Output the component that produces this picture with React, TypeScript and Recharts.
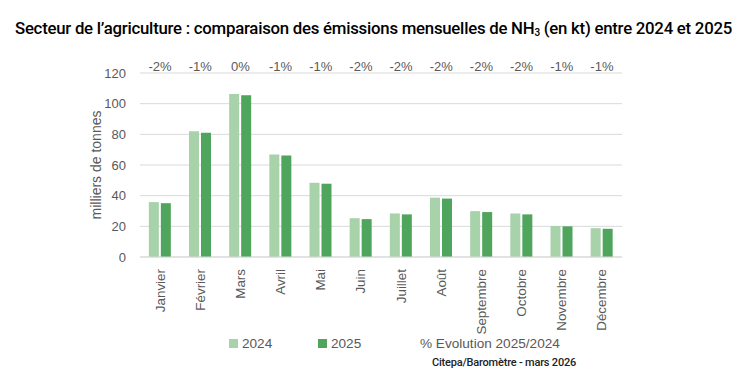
import React from 'react';
import { BarChart, Bar, XAxis, YAxis, CartesianGrid } from 'recharts';

const months = ['Janvier', 'Février', 'Mars', 'Avril', 'Mai', 'Juin', 'Juillet', 'Août', 'Septembre', 'Octobre', 'Novembre', 'Décembre'];
const values2024 = [35.8, 82.0, 106.3, 66.8, 48.4, 25.3, 28.4, 38.7, 29.9, 28.4, 20.2, 18.8];
const values2025 = [35.1, 81.1, 105.5, 66.2, 47.8, 24.7, 27.8, 38.1, 29.3, 27.8, 20.0, 18.4];
const evolution = ['-2%', '-1%', '0%', '-1%', '-1%', '-2%', '-2%', '-2%', '-2%', '-2%', '-1%', '-1%'];
const yTicks = [0, 20, 40, 60, 80, 100, 120];

const LIGHT = '#a7d2aa';
const DARK = '#4fa55c';
const GREY = '#595959';
const FONT = '"Liberation Sans", Arial, sans-serif';

const data = months.map((m, i) => ({
  month: m,
  y2024: values2024[i],
  y2025: values2025[i],
  evol: evolution[i],
}));

const MonthTick = (props: any) => {
  const { x, y, payload } = props;
  return (
    <text
      x={x}
      y={y}
      transform={`rotate(-90, ${x}, ${y})`}
      textAnchor="end"
      dominantBaseline="central"
      fill={GREY}
      fontSize={13.4}
      fontFamily={FONT}
    >
      {payload.value}
    </text>
  );
};

const EvolTick = (props: any) => {
  const { x, y, index } = props;
  return (
    <text x={x} y={y} dy={6} textAnchor="middle" fill={GREY} fontSize={13} fontFamily={FONT}>
      {evolution[index]}
    </text>
  );
};

const LegendBox = () => (
  <div style={{ position: 'absolute', left: 0, top: 336, width: 747, height: 20, fontFamily: FONT, fontSize: 13.6, color: GREY }}>
    <span style={{ position: 'absolute', left: 229, top: 0, display: 'flex', alignItems: 'center' }}>
      <span style={{ width: 9, height: 9, background: LIGHT, marginRight: 4, display: 'inline-block' }} />
      2024
    </span>
    <span style={{ position: 'absolute', left: 318, top: 0, display: 'flex', alignItems: 'center' }}>
      <span style={{ width: 9, height: 9, background: DARK, marginRight: 4, display: 'inline-block' }} />
      2025
    </span>
    <span style={{ position: 'absolute', left: 420, top: 0 }}>% Evolution 2025/2024</span>
  </div>
);

export default function App() {
  return (
    <div style={{ position: 'absolute', left: 0, top: 0, width: 747, height: 382, background: '#fff' }}>
      <div
        style={{
          position: 'absolute',
          left: 0,
          top: 18,
          width: 747,
          textAlign: 'center',
          fontFamily: 'Roboto, sans-serif',
          fontWeight: 500,
          fontSize: 16.8,
          color: '#000',
          letterSpacing: -0.25,
          whiteSpace: 'nowrap',
          zIndex: 2,
        }}
      >
        Secteur de l’agriculture : comparaison des émissions mensuelles de NH<sub style={{ fontSize: 10, verticalAlign: 'baseline', position: 'relative', top: 2 }}>3</sub> (en kt) entre 2024 et 2025
      </div>
      <BarChart
        width={747}
        height={382}
        data={data}
        margin={{ top: 53, right: 125, bottom: 45, left: 83 }}
        barCategoryGap="22%"
        barGap={2}
      >
        <CartesianGrid vertical={false} stroke="#d9d9d9" />
        <XAxis
          xAxisId="top"
          dataKey="month"
          orientation="top"
          height={20}
          axisLine={false}
          tickLine={false}
          tick={<EvolTick />}
          interval={0}
        />
        <XAxis
          dataKey="month"
          axisLine={{ stroke: '#d9d9d9' }}
          tickLine={false}
          tick={<MonthTick />}
          interval={0}
          height={80}
          tickMargin={6}
        />
        <YAxis
          width={57}
          domain={[0, 120]}
          ticks={yTicks}
          axisLine={false}
          tickLine={false}
          tick={{ fill: GREY, fontSize: 13, fontFamily: FONT }}
          tickMargin={8}
          label={{
            value: 'milliers de tonnes',
            angle: -90,
            position: 'insideLeft',
            offset: 13,
            style: { textAnchor: 'middle', fill: GREY, fontSize: 14, fontFamily: FONT },
          }}
        />
        <Bar dataKey="y2024" name="2024" fill={LIGHT} isAnimationActive={false} />
        <Bar dataKey="y2025" name="2025" fill={DARK} isAnimationActive={false} />
      </BarChart>
      <LegendBox />
      <div
        style={{
          position: 'absolute',
          left: 432,
          top: 356,
          fontFamily: 'Roboto, sans-serif',
          fontWeight: 500,
          fontSize: 11,
          color: '#222',
          letterSpacing: -0.2,
        }}
      >
        Citepa/Baromètre - mars 2026
      </div>
    </div>
  );
}
